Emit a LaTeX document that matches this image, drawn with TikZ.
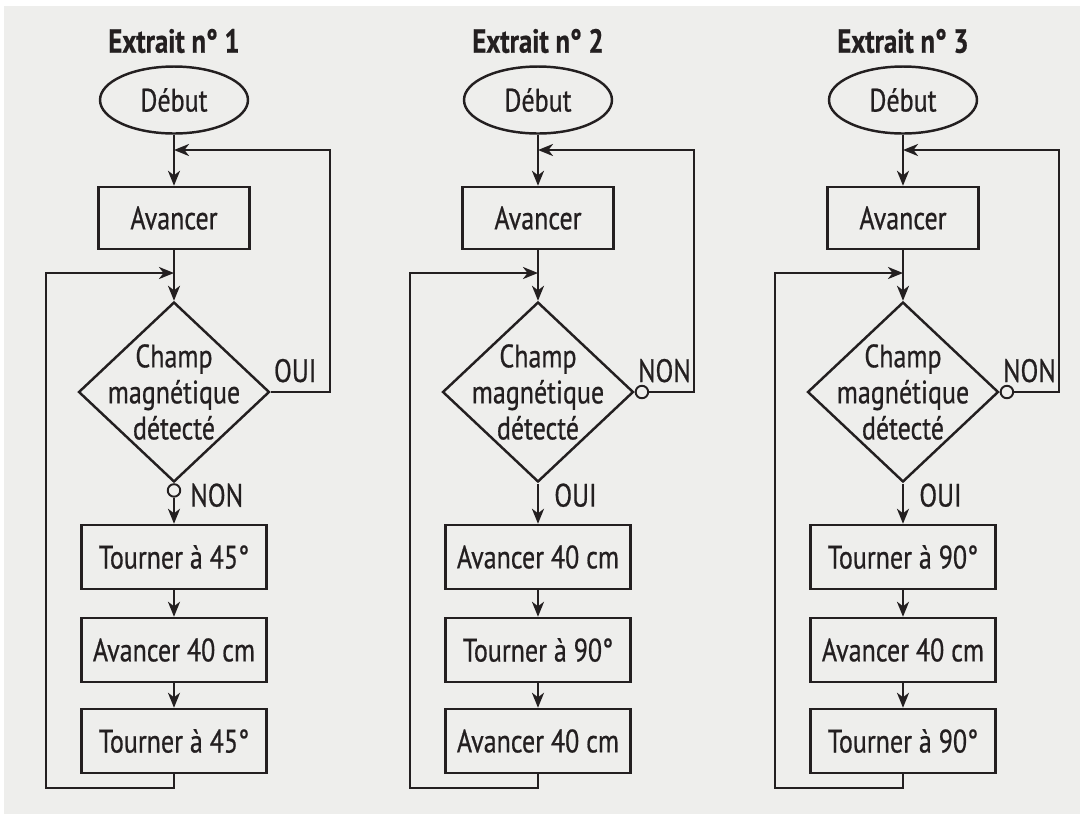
\documentclass[tikz,border=0pt]{standalone}
\usepackage{fontspec}
\setmainfont{PT Sans}[FakeStretch=0.8, FakeBold=0.6]
\usetikzlibrary{shapes.geometric,arrows.meta,positioning}
\definecolor{ink}{RGB}{35,31,32}
\definecolor{paper}{RGB}{238,238,236}
\tikzset{
  every node/.style={font=\fontsize{18.5}{20.5}\selectfont, text=ink},
  start/.style={ellipse, draw=ink, line width=1.4pt, minimum width=2.96cm, minimum height=1.34cm, inner sep=0},
  action/.style={rectangle, draw=ink, line width=1.4pt, minimum width=3.7cm, minimum height=1.28cm, inner sep=0},
  test/.style={diamond, draw=ink, line width=1.4pt, minimum width=3.82cm, minimum height=3.6cm, inner sep=0},
  nonexit/.style={circle, draw=ink, line width=1.1pt, minimum size=0.25cm, inner sep=0},
  ouiexit/.style={inner sep=0, minimum size=0},
  flow/.style={draw=ink, line width=1.4pt, -{Stealth[length=0.3cm,width=0.24cm,inset=0.09cm]}},
}
\begin{document}
\begin{tikzpicture}[x=0.02cm, y=-0.02cm]
  \useasboundingbox (0,0) rectangle (1080,823);
  \fill[white] (0,0) rectangle (1080,823);
  \fill[paper] (4,6) rectangle (1080,814);
  \foreach \n/\x/\ra/\da/\sd/\sr/\ba/\bb/\bc in {
      1/174/OUI/NON/nonexit/ouiexit/Tourner à 45°/Avancer 40 cm/Tourner à 45°,
      2/538/NON/OUI/ouiexit/nonexit/Avancer 40 cm/Tourner à 90°/Avancer 40 cm,
      3/903/NON/OUI/ouiexit/nonexit/Tourner à 90°/Avancer 40 cm/Tourner à 90°}
  {
    \node[font=\bfseries\fontsize{19}{21}\selectfont] (title\n) at (\x,41) {Extrait n° \n};
    \node[start] (debut\n) at (\x,100) {Début};
    \node[action, minimum width=3.02cm, minimum height=1.24cm] (avancer\n) at (\x,218) {Avancer};
    \node[test] (test\n) at (\x,392) {};
    \node[align=center] (champ\n) at (test\n) {Champ\\magnétique\\détecté};
    \node[\sd, below=0pt of test\n.south] (down\n) {};
    \node[\sr, right=0pt of test\n.east] (right\n) {};
    \node[action] (a\n) at (\x,557) {\ba};
    \node[action] (b\n) at (\x,650) {\bb};
    \node[action] (c\n) at (\x,741) {\bc};
    \coordinate (top\n) at (\x,150);
    \coordinate (mid\n) at (\x,273);
    \coordinate (back\n) at (\x+156,150);
    \coordinate (loop\n) at (\x-128,788);
    \path (test\n.east) ++(3,-10) node[anchor=base west, inner sep=0] {\ra};
    \path (test\n.south) ++(16,12) node[anchor=west, inner sep=0] {\da};
    \draw[flow] (debut\n) -- (avancer\n);
    \draw[flow] (avancer\n) -- (test\n);
    \draw[flow] (down\n.south) -- (a\n);
    \draw[flow] (a\n) -- (b\n);
    \draw[flow] (b\n) -- (c\n);
    \draw[flow] (right\n.east) -| (back\n) -- (top\n);
    \draw[flow] (c\n.south) |- (loop\n) |- (mid\n);
  }
\end{tikzpicture}
\end{document}
